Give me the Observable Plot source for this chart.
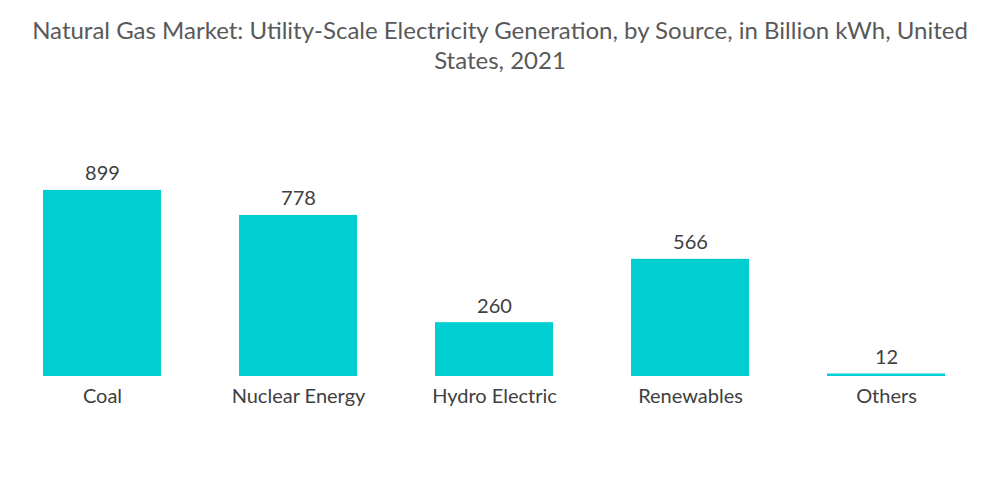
<!DOCTYPE html>
<html>
<head>
<meta charset="utf-8">
<script src="https://cdn.jsdelivr.net/npm/d3@7"></script>
<script src="https://cdn.jsdelivr.net/npm/@observablehq/plot@0.6"></script>
<style>
  body { margin: 0; background: #fff; font-family: Lato, "Noto Sans", sans-serif; }
  #title { width: 1000px; text-align: center; color: #595959; font-family: Lato, sans-serif; font-weight: 400; font-size: 24px; line-height: 30px; padding-top: 15px; height: 75px; box-sizing: content-box; }
  #chart { width: 1000px; }
</style>
</head>
<body>
<div id="title">Natural Gas Market: Utility-Scale Electricity Generation, by Source, in Billion kWh, United<br>States, 2021</div>
<div id="chart"></div>
<script>
const categories = ["Coal", "Nuclear Energy", "Hydro Electric", "Renewables", "Others"];
const values = [899, 778, 260, 566, 12];

const data = categories.map((c, i) => ({category: c, value: values[i]}));

const chart = Plot.plot({
  width: 1000,
  height: 400,
  marginLeft: 3,
  marginRight: 15,
  marginTop: 20,
  marginBottom: 114,
  style: {fontFamily: "Lato, 'Noto Sans', sans-serif", background: "#fff"},
  x: {domain: categories, paddingInner: 0.4, paddingOuter: 0.2, label: null},
  y: {domain: [0, 1285], axis: null},
  marks: [
    Plot.barY(data, {x: "category", y: "value", fill: "#00CED1"}),
    Plot.text(data, {x: "category", y: "value", text: d => String(d.value), lineAnchor: "bottom", dy: -10, fontSize: 20, fill: "#404040"}),
    Plot.axisX({tickSize: 0, tickPadding: 12, fontSize: 20, color: "#404040", label: null})
  ]
});
document.getElementById("chart").appendChild(chart);
</script>
</body>
</html>
